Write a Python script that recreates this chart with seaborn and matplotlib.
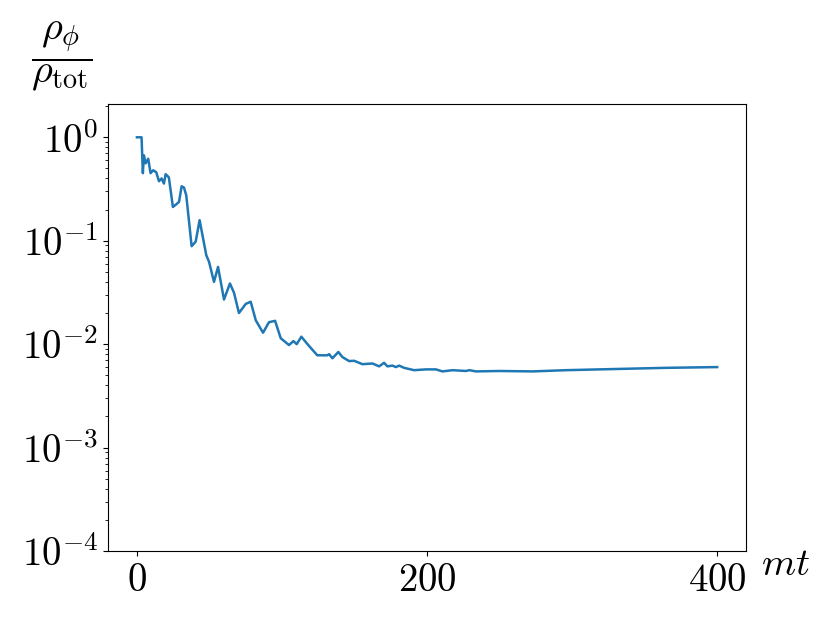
import matplotlib
matplotlib.use('Agg')
import matplotlib.pyplot as plt
import matplotlib.ticker as mticker
import numpy as np
import pandas as pd
import seaborn as sns

plt.rcParams['mathtext.fontset'] = 'cm'

# values
mt = [0, 3.2, 4.1, 4.8, 6.0, 7.8, 9.4, 11.2, 13.3, 15.2, 17.0, 18.6, 19.8, 22.0,
      24.8, 27.1, 29.0, 30.8, 32.4, 34.0, 37.7, 40.5, 43.2, 47.8, 49.7, 53.1,
      55.9, 60.0, 64.1, 66.9, 70.3, 75.0, 78.4, 81.9, 86.9, 91.0, 95.2, 99.1,
      104.8, 107.8, 110.1, 113.3, 118.6, 124.3, 131.2, 132.4, 134.7, 138.8,
      141.6, 146.2, 149.7, 155.4, 162.3, 166.9, 170.3, 172.6, 176.1, 178.4,
      180.7, 184.1, 191.0, 199.1, 206.0, 210.6, 217.5, 226.7, 229.0, 233.6,
      249.7, 272.6, 295.6, 318.6, 341.6, 364.6, 399.8]
ratio = [1.0, 1.0, 0.45, 0.67, 0.56, 0.62, 0.45, 0.48, 0.46, 0.376, 0.40, 0.357,
         0.44, 0.41, 0.212, 0.225, 0.237, 0.336, 0.327, 0.275, 0.0885, 0.098,
         0.158, 0.0724, 0.0625, 0.040, 0.0558, 0.027, 0.0386, 0.0314, 0.020,
         0.0245, 0.0257, 0.017, 0.0129, 0.0163, 0.0168, 0.0114, 0.0098, 0.0107,
         0.0100, 0.0118, 0.0096, 0.0078, 0.0078, 0.0080, 0.0073, 0.0084, 0.0075,
         0.00686, 0.0069, 0.0064, 0.0065, 0.0061, 0.0066, 0.0061, 0.0062, 0.0060,
         0.0062, 0.0059, 0.0056, 0.0057, 0.0057, 0.00545, 0.0056, 0.0055, 0.0056,
         0.00545, 0.0055, 0.00545, 0.0056, 0.0057, 0.0058, 0.0059, 0.0060]

df = pd.DataFrame({'mt': mt, 'ratio': ratio})

fig = plt.figure(figsize=(8.3, 6.23), dpi=100)
ax = fig.add_axes([0.130, 0.1156, 0.769, 0.7175])
sns.lineplot(data=df, x='mt', y='ratio', ax=ax, color='#1f77b4', linewidth=1.8)

ax.set_yscale('log')
ax.set_ylim(1e-4, 2.1)
ax.set_xticks([0, 200, 400])
ax.xaxis.set_major_formatter(mticker.FuncFormatter(lambda v, p: r'$%d$' % v))
ax.yaxis.set_major_locator(mticker.LogLocator(base=10, numticks=10))
ax.yaxis.set_major_formatter(mticker.FuncFormatter(lambda v, p: r'$10^{%d}$' % round(np.log10(v))))
ax.tick_params(labelsize=28)

ax.set_xlabel(r'$mt$', fontsize=28)
ax.xaxis.set_label_coords(1.061, -0.03)
ax.xaxis.label.set_va('center')
ax.set_ylabel(r'$\dfrac{\rho_\phi}{\rho_{\rm tot}}$', fontsize=29, rotation=0)
ax.yaxis.set_label_coords(-0.072, 1.107)
ax.yaxis.label.set_va('center')

fig.savefig('out.png', dpi=100)
